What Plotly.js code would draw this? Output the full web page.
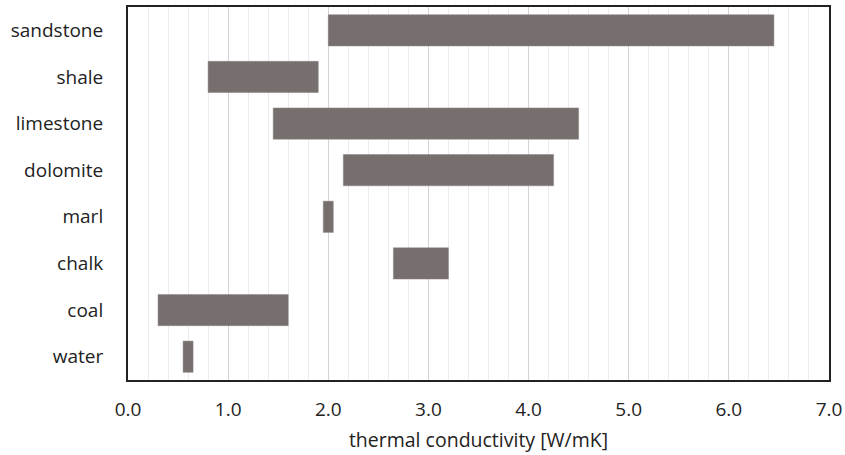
<!DOCTYPE html>
<html><head><meta charset="utf-8">
<script src="https://cdn.plot.ly/plotly-3.0.1.min.js"></script>
<style>html,body{margin:0;padding:0;background:#fff}</style>
</head><body>
<div id="chart" style="width:845px;height:455px"></div>
<script>
const categories = ["sandstone","shale","limestone","dolomite","marl","chalk","coal","water"];
const lowValues  = [2.0, 0.8, 1.45, 2.15, 1.95, 2.65, 0.3, 0.55];
const highValues = [6.45, 1.9, 4.5, 4.25, 2.05, 3.2, 1.6, 0.65];
const xTickVals = [0,1,2,3,4,5,6,7];
const xTickText = ["0.0","1.0","2.0","3.0","4.0","5.0","6.0","7.0"];

const trace = {
  type: 'bar',
  orientation: 'h',
  y: categories,
  base: lowValues,
  x: highValues.map((h,i)=>h - lowValues[i]),
  width: 0.67,
  marker: {color: '#776f6e', line: {color: '#8a8483', width: 0.5}},
  hoverinfo: 'skip'
};

const layout = {
  width: 845, height: 455,
  margin: {l: 128, r: 16, t: 7, b: 75},
  paper_bgcolor: '#fff', plot_bgcolor: '#fff',
  font: {family: '"Open Sans", "Liberation Sans", sans-serif', size: 19, color: '#222'},
  showlegend: false,
  bargap: 0,
  xaxis: {
    range: [0, 7],
    tickvals: xTickVals, ticktext: xTickText,
    showgrid: true, gridcolor: '#d4d4d4', gridwidth: 1,
    minor: {dtick: 0.2, tick0: 0, showgrid: true, gridcolor: '#ececec', gridwidth: 1, ticks: ''},
    showline: true, linecolor: '#222', linewidth: 2, mirror: true,
    ticks: '', zeroline: false,
    ticklabelstandoff: 11,
    tickfont: {size: 19},
    title: {text: 'thermal conductivity [W/mK]', font: {size: 19.5}, standoff: 13}
  },
  yaxis: {
    type: 'category',
    autorange: 'reversed',
    showgrid: false,
    showline: true, linecolor: '#222', linewidth: 2, mirror: true,
    ticks: '', ticklabelstandoff: 19,
    tickfont: {size: 19}
  }
};

Plotly.newPlot('chart', [trace], layout, {displayModeBar: false, staticPlot: true});
</script>
</body></html>
